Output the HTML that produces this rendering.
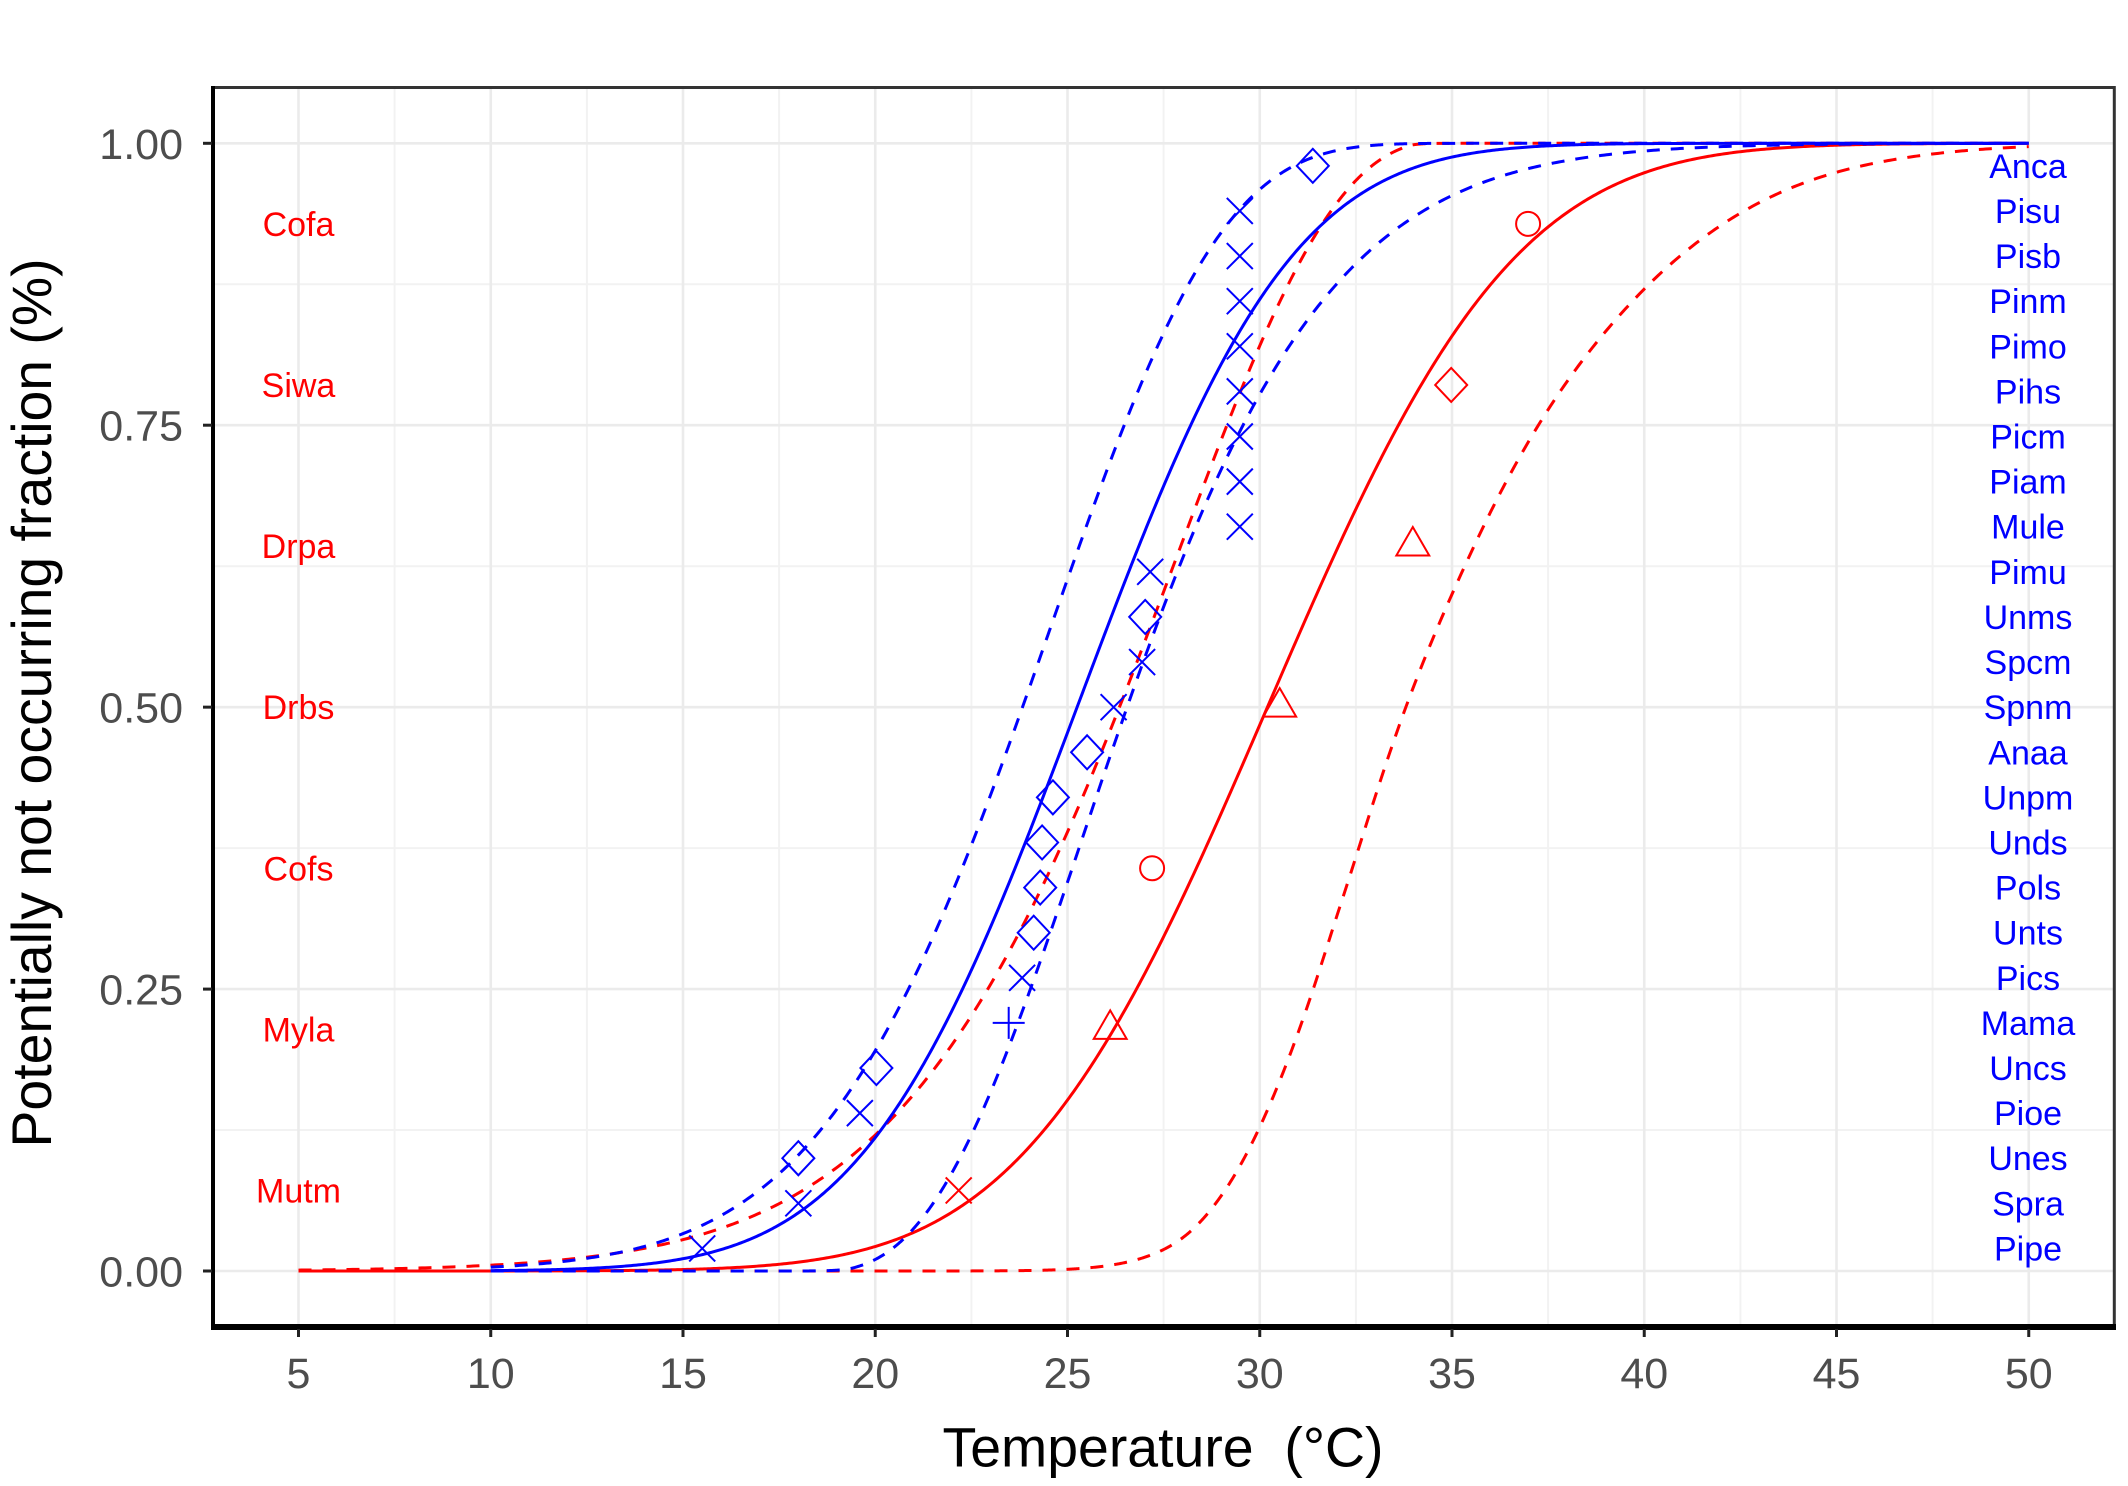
<!DOCTYPE html>
<html><head><meta charset="utf-8">
<style>html,body{margin:0;padding:0;background:#fff;}svg{display:block;}</style>
</head><body>
<svg id="c" width="2128" height="1486" viewBox="0 0 2128 1486" xmlns="http://www.w3.org/2000/svg" font-family="'Liberation Sans', Arial, sans-serif">
<rect width="2128" height="1486" fill="#fff"/>
<defs>
<path id="mx" d="M-13,-13L13,13M-13,13L13,-13"/>
<path id="md" d="M0,-17L16,0L0,17L-16,0Z"/>
<path id="mp" d="M-16,0H16M0,-16V16"/>
<path id="mt" d="M0,-19L16.45,9.5L-16.45,9.5Z"/>
</defs>
<g stroke="#F2F2F2" stroke-width="2">
<line x1="394.6" y1="87" x2="394.6" y2="1327"/><line x1="586.9" y1="87" x2="586.9" y2="1327"/><line x1="779.1" y1="87" x2="779.1" y2="1327"/><line x1="971.4" y1="87" x2="971.4" y2="1327"/><line x1="1163.6" y1="87" x2="1163.6" y2="1327"/><line x1="1355.9" y1="87" x2="1355.9" y2="1327"/><line x1="1548.1" y1="87" x2="1548.1" y2="1327"/><line x1="1740.4" y1="87" x2="1740.4" y2="1327"/><line x1="1932.6" y1="87" x2="1932.6" y2="1327"/>
<line x1="212" y1="1130" x2="2115" y2="1130"/><line x1="212" y1="848.1" x2="2115" y2="848.1"/><line x1="212" y1="566.2" x2="2115" y2="566.2"/><line x1="212" y1="284.3" x2="2115" y2="284.3"/>
</g>
<g stroke="#EBEBEB" stroke-width="2.6">
<line x1="298.5" y1="87" x2="298.5" y2="1327"/><line x1="490.75" y1="87" x2="490.75" y2="1327"/><line x1="683" y1="87" x2="683" y2="1327"/><line x1="875.25" y1="87" x2="875.25" y2="1327"/><line x1="1067.5" y1="87" x2="1067.5" y2="1327"/><line x1="1259.75" y1="87" x2="1259.75" y2="1327"/><line x1="1452" y1="87" x2="1452" y2="1327"/><line x1="1644.25" y1="87" x2="1644.25" y2="1327"/><line x1="1836.5" y1="87" x2="1836.5" y2="1327"/><line x1="2028.75" y1="87" x2="2028.75" y2="1327"/>
<line x1="212" y1="1271" x2="2115" y2="1271"/><line x1="212" y1="989.1" x2="2115" y2="989.1"/><line x1="212" y1="707.15" x2="2115" y2="707.15"/><line x1="212" y1="425.2" x2="2115" y2="425.2"/><line x1="212" y1="143.3" x2="2115" y2="143.3"/>
</g>
<g fill="none" stroke-width="3" stroke-linejoin="round">
<path id="r1" stroke="#FF0000" d=""/>
<path id="rdl" stroke="#FF0000" stroke-dasharray="13 11" d=""/>
<path id="rdr" stroke="#FF0000" stroke-dasharray="13 11" d=""/>
<path id="b1" stroke="#0000FF" d=""/>
<path id="bdl" stroke="#0000FF" stroke-dasharray="13 11" d=""/>
<path id="bdr" stroke="#0000FF" stroke-dasharray="13 11" d=""/>
</g>
<g fill="none" stroke="#0000FF" stroke-width="2">
<use href="#mx" x="702.2" y="1248.45"/><use href="#mx" x="798.35" y="1203.34"/><use href="#mx" x="859.87" y="1113.12"/><use href="#mx" x="1022.1" y="977.8"/><use href="#mx" x="1113.6" y="707.15"/><use href="#mx" x="1142.1" y="662.04"/><use href="#mx" x="1150.2" y="571.83"/>
<use href="#mx" x="1239.8" y="526.72"/><use href="#mx" x="1239.8" y="481.61"/><use href="#mx" x="1239.8" y="436.5"/><use href="#mx" x="1239.8" y="391.39"/><use href="#mx" x="1239.8" y="346.29"/><use href="#mx" x="1239.8" y="301.18"/><use href="#mx" x="1239.8" y="256.07"/><use href="#mx" x="1239.8" y="210.96"/>
<use href="#md" x="798.35" y="1158.23"/><use href="#md" x="876.4" y="1068.01"/><use href="#md" x="1033.7" y="932.69"/><use href="#md" x="1040.2" y="887.58"/><use href="#md" x="1042.1" y="842.47"/><use href="#md" x="1052.9" y="797.37"/><use href="#md" x="1087.1" y="752.26"/><use href="#md" x="1145.2" y="616.93"/><use href="#md" x="1312.8" y="165.85"/>
<use href="#mp" x="1008.7" y="1022.91"/>
</g>
<g fill="none" stroke="#FF0000" stroke-width="2">
<use href="#mx" x="958.7" y="1190.45"/>
<use href="#mt" x="1110.2" y="1029.35"/><use href="#mt" x="1279.7" y="707.15"/><use href="#mt" x="1412.8" y="546.05"/>
<circle cx="1152.1" cy="868.25" r="12"/><circle cx="1528.1" cy="223.85" r="12"/>
<use href="#md" x="1451.2" y="384.95"/>
</g>
<g fill="#FF0000" font-size="34" text-anchor="middle">
<text x="298.5" y="235.9">Cofa</text>
<text x="298.5" y="397">Siwa</text>
<text x="298.5" y="558.1">Drpa</text>
<text x="298.5" y="719.2">Drbs</text>
<text x="298.5" y="880.3">Cofs</text>
<text x="298.5" y="1041.4">Myla</text>
<text x="298.5" y="1202.5">Mutm</text>
</g>
<g fill="#0000FF" font-size="34" text-anchor="middle">
<text x="2028" y="177.85">Anca</text>
<text x="2028" y="222.96">Pisu</text>
<text x="2028" y="268.07">Pisb</text>
<text x="2028" y="313.18">Pinm</text>
<text x="2028" y="358.29">Pimo</text>
<text x="2028" y="403.39">Pihs</text>
<text x="2028" y="448.5">Picm</text>
<text x="2028" y="493.61">Piam</text>
<text x="2028" y="538.72">Mule</text>
<text x="2028" y="583.83">Pimu</text>
<text x="2028" y="628.93">Unms</text>
<text x="2028" y="674.04">Spcm</text>
<text x="2028" y="719.15">Spnm</text>
<text x="2028" y="764.26">Anaa</text>
<text x="2028" y="809.37">Unpm</text>
<text x="2028" y="854.47">Unds</text>
<text x="2028" y="899.58">Pols</text>
<text x="2028" y="944.69">Unts</text>
<text x="2028" y="989.8">Pics</text>
<text x="2028" y="1034.91">Mama</text>
<text x="2028" y="1080.01">Uncs</text>
<text x="2028" y="1125.12">Pioe</text>
<text x="2028" y="1170.23">Unes</text>
<text x="2028" y="1215.34">Spra</text>
<text x="2028" y="1260.45">Pipe</text>
</g>
<rect x="213" y="87.5" width="1901.3" height="1239.5" fill="none" stroke="#333" stroke-width="3"/>
<line x1="213" y1="86" x2="213" y2="1330" stroke="#000" stroke-width="4"/>
<line x1="211" y1="1327" x2="2116" y2="1327" stroke="#000" stroke-width="6"/>
<g stroke="#222" stroke-width="3">
<line x1="298.5" y1="1329" x2="298.5" y2="1337"/><line x1="490.75" y1="1329" x2="490.75" y2="1337"/><line x1="683" y1="1329" x2="683" y2="1337"/><line x1="875.25" y1="1329" x2="875.25" y2="1337"/><line x1="1067.5" y1="1329" x2="1067.5" y2="1337"/><line x1="1259.75" y1="1329" x2="1259.75" y2="1337"/><line x1="1452" y1="1329" x2="1452" y2="1337"/><line x1="1644.25" y1="1329" x2="1644.25" y2="1337"/><line x1="1836.5" y1="1329" x2="1836.5" y2="1337"/><line x1="2028.75" y1="1329" x2="2028.75" y2="1337"/>
<line x1="203" y1="143.3" x2="212" y2="143.3"/><line x1="203" y1="425.2" x2="212" y2="425.2"/><line x1="203" y1="707.15" x2="212" y2="707.15"/><line x1="203" y1="989.1" x2="212" y2="989.1"/><line x1="203" y1="1271" x2="212" y2="1271"/>
</g>
<g fill="#4D4D4D" font-size="43" text-anchor="middle">
<text x="298.5" y="1388">5</text><text x="490.75" y="1388">10</text><text x="683" y="1388">15</text><text x="875.25" y="1388">20</text><text x="1067.5" y="1388">25</text><text x="1259.75" y="1388">30</text><text x="1452" y="1388">35</text><text x="1644.25" y="1388">40</text><text x="1836.5" y="1388">45</text><text x="2028.75" y="1388">50</text>
</g>
<g fill="#4D4D4D" font-size="43" text-anchor="end">
<text x="183" y="158.8">1.00</text><text x="183" y="440.7">0.75</text><text x="183" y="722.7">0.50</text><text x="183" y="1004.6">0.25</text><text x="183" y="1286.5">0.00</text>
</g>
<text x="1163" y="1466.7" font-size="56" fill="#000" text-anchor="middle" textLength="441" lengthAdjust="spacingAndGlyphs" xml:space="preserve">Temperature  (°C)</text>
<text transform="translate(51,703) rotate(-90)" font-size="56" fill="#000" text-anchor="middle" textLength="889" lengthAdjust="spacingAndGlyphs">Potentially not occurring fraction (%)</text>
</svg>
<script>
(function(){
function erf(x){var s=x<0?-1:1;x=Math.abs(x);var t=1/(1+0.3275911*x);var y=1-(((((1.061405429*t-1.453152027)*t)+1.421413741)*t-0.284496736)*t+0.254829592)*t*Math.exp(-x*x);return s*y;}
function Phi(z){return 0.5*(1+erf(z/Math.SQRT2));}
function mono(xs,ys){var n=xs.length,d=[],m=[],i;for(i=0;i<n-1;i++)d.push((ys[i+1]-ys[i])/(xs[i+1]-xs[i]));m[0]=d[0];m[n-1]=d[n-2];for(i=1;i<n-1;i++)m[i]=(d[i-1]*d[i]<=0)?0:(d[i-1]+d[i])/2;
for(i=0;i<n-1;i++){if(d[i]===0){m[i]=m[i+1]=0;continue;}var a=m[i]/d[i],b=m[i+1]/d[i],h=a*a+b*b;if(h>9){var tau=3/Math.sqrt(h);m[i]=tau*a*d[i];m[i+1]=tau*b*d[i];}}
return function(z){if(z<=xs[0])return ys[0]+m[0]*(z-xs[0]);if(z>=xs[n-1])return ys[n-1]+m[n-1]*(z-xs[n-1]);var k=0;while(z>xs[k+1])k++;var hh=xs[k+1]-xs[k],s=(z-xs[k])/hh,s2=s*s,s3=s2*s;return (2*s3-3*s2+1)*ys[k]+(s3-2*s2+s)*hh*m[k]+(-2*s3+3*s2)*ys[k+1]+(s3-s2)*hh*m[k+1];};}
function param(m,s0,s1,zlo,zhi){var xs=[],ys=[];for(var z=zlo;z<=zhi+1e-9;z+=0.5){xs.push(z);ys.push(m+s0*z+s1*z*z);}return mono(xs,ys);}
function X(t){return 298.5+(t-5)*38.45;}
function Y(v){return 1271-v*1127.7;}
function build(f,t0){var pts=[],prev=null;for(var z=-8;z<=8;z+=0.01){var t=f(z),v=Phi(z);if(prev){if(prev.t<t0&&t>=t0){var r=(t0-prev.t)/(t-prev.t);pts.push([t0,prev.v+r*(v-prev.v)]);}
if(t>=t0&&t<=50)pts.push([t,v]);if(prev.t<=50&&t>50){var r2=(50-prev.t)/(t-prev.t);pts.push([50,prev.v+r2*(v-prev.v)]);break;}}prev={t:t,v:v};}
if(pts.length&&pts[0][0]>t0)pts.unshift([t0,pts[0][1]]);
if(pts.length&&pts[pts.length-1][0]<50)pts.push([50,pts[pts.length-1][1]]);
return 'M'+pts.map(function(p){return X(p[0]).toFixed(2)+','+Y(p[1]).toFixed(2);}).join('L');}
function set(id,d){document.getElementById(id).setAttribute('d',d);}
set('b1',build(param(25.25,4.4,-0.03,-5,5),10));
set('bdl',build(param(23.83,4.16,-0.353,-5,5),10));
set('bdr',build(param(26.55,4.1,0.55,-3,5),10));
set('r1',build(param(30.2,5.05,0,-5,5),5));
set('rdl',build(param(26.35,4.611,-0.6885,-5,3),5));
set('rdr',build(mono([-3,-2.75,-2,-1.5,-1.12,-0.72,-0.44,0,0.4,0.71,1.13,1.35,1.94,2.33,3],[24.9,25.6,27.7,29.0,30.05,31.25,32.15,33.8,35.75,37.45,40.0,41.35,44.95,47.4,51.5]),5));
})();
</script>
</body></html>
